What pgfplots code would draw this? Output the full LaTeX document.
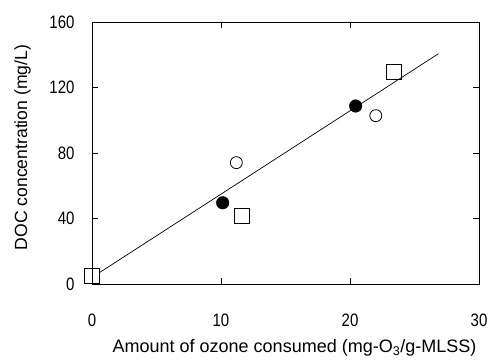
\documentclass[border=0pt]{standalone}
\usepackage{pgfplots}
\pgfplotsset{compat=1.18}
\usepackage{fontspec}
\setmainfont{Liberation Sans}
\begin{document}
\begin{tikzpicture}[x=1pt,y=1pt]
\useasboundingbox (0,0) rectangle (490,363);
\begin{axis}[
  at={(92pt,79pt)}, anchor=south west,
  scale only axis, width=387pt, height=262pt,
  xmin=0, xmax=30, ymin=0, ymax=160,
  xtick={0,10,20,30}, ytick={0,40,80,120,160},
  tick align=inside, major tick length=6pt,
  axis line style={line width=0.9pt}, tick style={line width=0.8pt, black},
  /pgf/number format/assume math mode=true,
  ticklabel style={font=\fontsize{15}{17}\selectfont, yscale=1.2},
  xticklabel style={yshift=-21pt},
  yticklabel style={xshift=-14pt},
  clip=false,
]
\addplot[black, line width=0.7pt] coordinates {(0.57,6.9) (26.85,140.6)};
\addplot[only marks, mark=square, mark size=7.5pt, mark options={line width=0.8pt, fill=white}] coordinates {(0,4.9) (11.63,41.5) (23.44,129.3)};
\addplot[only marks, mark=*, mark size=6.3pt, mark options={fill=black}] coordinates {(10.13,49.6) (20.44,108.7)};
\addplot[only marks, mark=o, mark size=6pt, mark options={line width=0.8pt}] coordinates {(11.19,74.1) (22.0,102.8)};
\end{axis}
\node[rotate=90, font=\fontsize{17.6}{20}\selectfont] at (22.5,215.5) {DOC concentration (mg/L)};
\node[font=\fontsize{18}{20}\selectfont] at (294.5,15) {Amount of ozone consumed (mg-O\textsubscript{3}/g-MLSS)};
\end{tikzpicture}
\end{document}
